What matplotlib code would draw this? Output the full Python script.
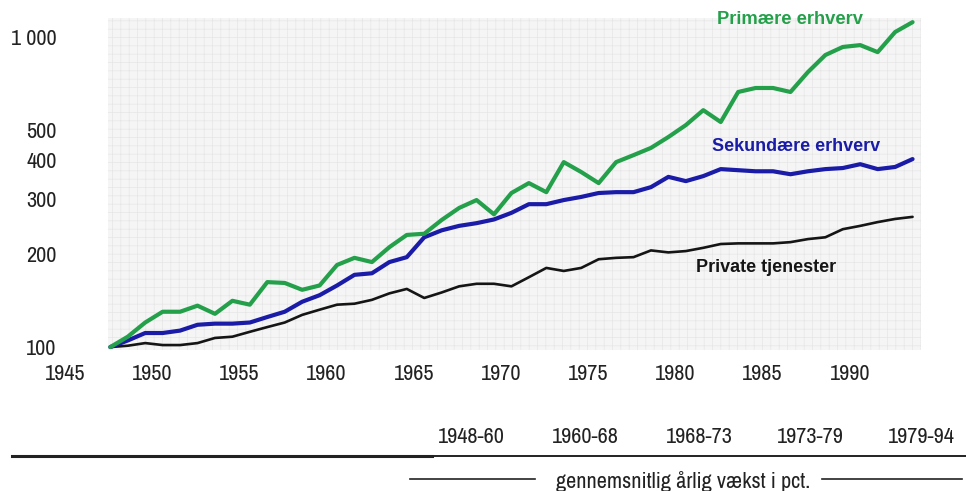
import matplotlib
matplotlib.use("Agg")
import matplotlib.pyplot as plt
from matplotlib.patches import Rectangle
from matplotlib.lines import Line2D
from matplotlib.transforms import ScaledTranslation

years = list(range(1948, 1995))

# index 1948 = 100
primaer = [100, 108, 120, 130, 130, 136, 128, 141, 137, 162, 161, 153, 158,
           184, 194, 188, 210, 230, 232, 257, 281, 298, 268, 314, 338, 316,
           395, 367, 338, 395, 416, 439, 476, 520, 581, 532, 665, 685, 685,
           665, 771, 875, 929, 942, 894, 1038, 1117]
sekundaer = [100, 105, 111, 111, 113, 118, 119, 119, 120, 125, 130, 140, 147,
             158, 171, 173, 188, 195, 226, 238, 246, 251, 258, 271, 289, 289,
             298, 305, 314, 316, 316, 328, 354, 343, 356, 375, 372, 369, 369,
             361, 369, 375, 378, 389, 375, 381, 404]
private = [100, 101, 103, 101.5, 101.5, 103, 107, 108, 112, 116, 120, 127, 132,
           137, 138, 142, 149, 154, 144, 150, 157, 160, 160, 157, 168, 180,
           176, 180, 192, 194, 195, 205, 202, 204, 209, 215, 216, 216, 216,
           218, 223, 226, 240, 246, 253, 259, 263]

x_ticks = [1945, 1950, 1955, 1960, 1965, 1970, 1975, 1980, 1985, 1990]
y_ticks = [100, 200, 300, 400, 500, 1000]
y_labels = ["100", "200", "300", "400", "500", "1 000"]
periods = ["1948-60", "1960-68", "1968-73", "1973-79", "1979-94"]

green = "#24a04b"
blue = "#1a1ca8"
black = "#151515"
tick_font = ["Liberation Sans Narrow", "Archivo Narrow", "Liberation Sans"]
fs = 16

plt.rcParams["hatch.linewidth"] = 0.5

fig = plt.figure(figsize=(9.66, 4.91), dpi=100)
ax = fig.add_axes([58 / 966, 1 - 352 / 491, 872 / 966, 337 / 491])
ax.set_yscale("log")
ax.set_xlim(1945, 1995)
ax.set_ylim(96.4, 1178)

# halftone-like background
bg = Rectangle((1947.85, 97.6), 1994.5 - 1947.85, 1155 - 97.6,
               facecolor="#f5f5f5", edgecolor="#e6e6e6", hatch="++",
               linewidth=0, zorder=0)
ax.add_patch(bg)

ax.plot(years, private, color=black, lw=1.9, zorder=3, solid_capstyle="round")
ax.plot(years, sekundaer, color=blue, lw=3.0, zorder=4, solid_capstyle="round")
ax.plot(years, primaer, color=green, lw=3.0, zorder=5, solid_capstyle="round")

ax.text(1987.0, 1143, "Primære erhverv", color=green, fontsize=13.2,
        fontweight="bold", family="Liberation Sans", ha="center", va="center")
ax.text(1987.3, 445, "Sekundære erhverv", color=blue, fontsize=13.0,
        fontweight="bold", family="Liberation Sans", ha="center", va="center")
ax.text(1985.6, 181, "Private tjenester", color=black, fontsize=13.0,
        fontweight="bold", family="Liberation Sans", ha="center", va="center")

for s in ax.spines.values():
    s.set_visible(False)
ax.set_xticks(x_ticks)
ax.set_xticklabels([str(v) for v in x_ticks], family=tick_font, fontsize=fs,
                   color="#222222")
ax.set_yticks(y_ticks)
ax.set_yticklabels(y_labels, family=tick_font, fontsize=fs, color="#222222")
ax.minorticks_off()
ax.tick_params(axis="both", length=0)
ax.tick_params(axis="x", pad=9)
ax.tick_params(axis="y", pad=1)
shift = ScaledTranslation(7 / 100, 0, fig.dpi_scale_trans)
for lab in ax.get_xticklabels():
    lab.set_transform(lab.get_transform() + shift)

# table header below the chart
W, H = 966.0, 491.0
period_x = [471, 585, 699, 810, 921]
for px, p in zip(period_x, periods):
    fig.text(px / W, 1 - 437 / H, p, family=tick_font, fontsize=fs,
             color="#222222", ha="center", va="center")
fig.add_artist(Line2D([12 / W, 432 / W], [1 - 456 / H] * 2, color="#222222", lw=2.2))
fig.add_artist(Line2D([432 / W, 966 / W], [1 - 456 / H] * 2, color="#222222", lw=1.4))
fig.text(683 / W, 1 - 481 / H, "gennemsnitlig årlig vækst i pct.", family=tick_font,
         fontsize=fs, color="#222222", ha="center", va="center")
fig.add_artist(Line2D([410 / W, 535 / W], [1 - 479 / H] * 2, color="#222222", lw=1.2))
fig.add_artist(Line2D([822 / W, 962 / W], [1 - 479 / H] * 2, color="#222222", lw=1.2))

fig.savefig("out.png", dpi=100, facecolor="white")
